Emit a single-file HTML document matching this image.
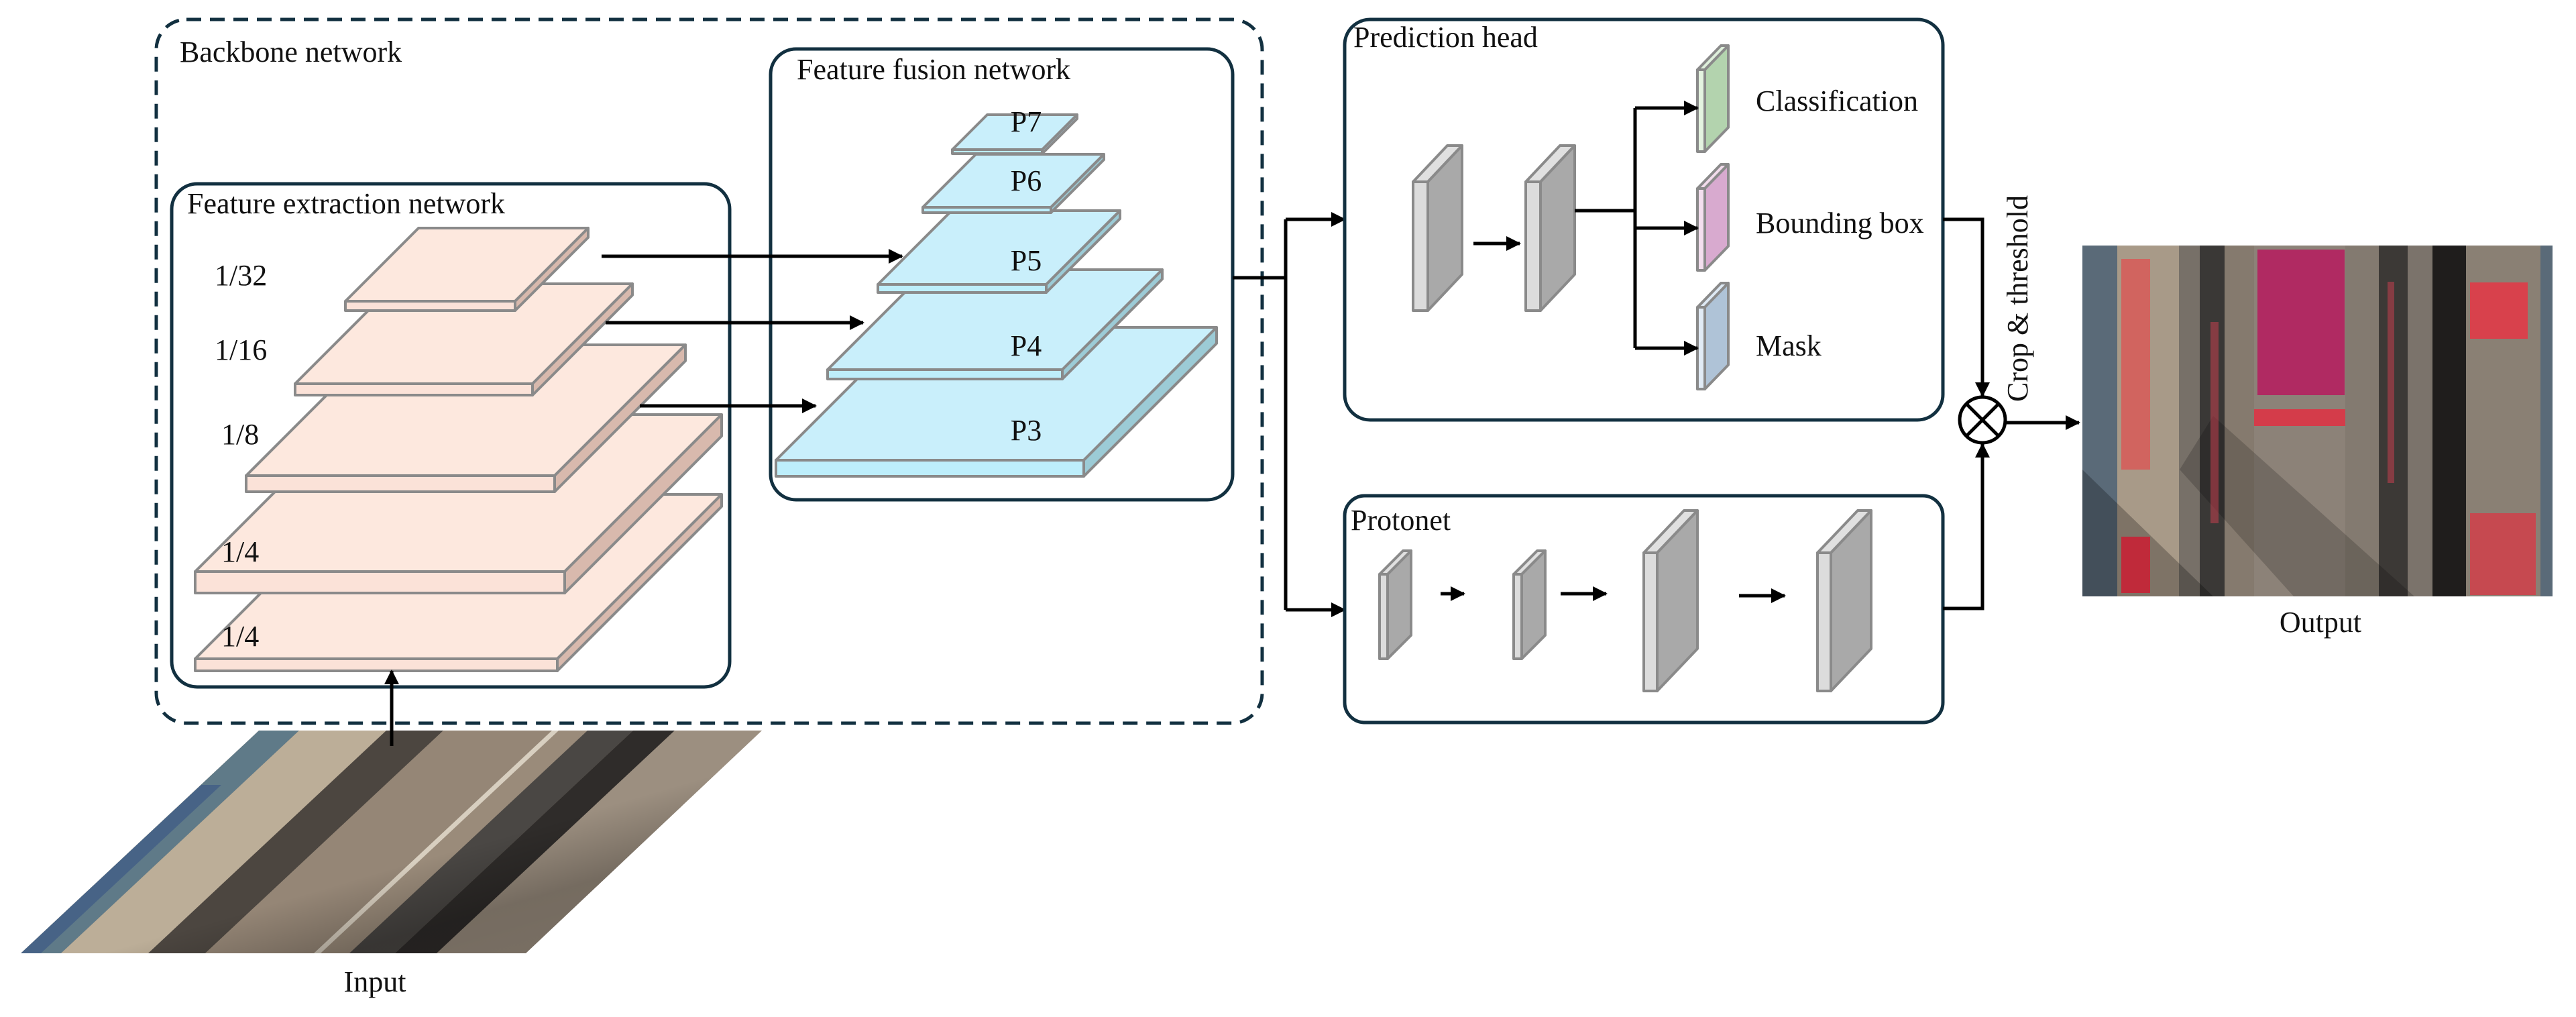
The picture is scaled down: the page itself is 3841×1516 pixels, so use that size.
<!DOCTYPE html>
<html><head><meta charset="utf-8"><style>
html,body{margin:0;padding:0;background:#fff;}
svg{display:block;}
text{font-family:"Liberation Serif",serif;fill:#111;}
</style></head><body>
<svg width="3841" height="1516" viewBox="0 0 3841 1516" xmlns="http://www.w3.org/2000/svg">
<defs>
<marker id="ah" markerWidth="10" markerHeight="10" refX="9" refY="5" orient="auto" markerUnits="userSpaceOnUse">
<path d="M0,0 L10,5 L0,10 z" fill="#000"/></marker>
<marker id="ah2" markerWidth="22" markerHeight="22" refX="20" refY="11" orient="auto" markerUnits="userSpaceOnUse">
<path d="M0,0 L22,11 L0,22 z" fill="#000"/></marker>
<clipPath id="inclip"><polygon points="31,1421 386,1089 1136,1089 784,1421"/></clipPath>
<clipPath id="outclip"><rect x="3105" y="366" width="701" height="523"/></clipPath>
<linearGradient id="shade" x1="0" y1="0" x2="1" y2="1"><stop offset="0" stop-color="#000" stop-opacity="0"/><stop offset="0.55" stop-color="#000" stop-opacity="0"/><stop offset="0.7" stop-color="#000" stop-opacity="0.25"/><stop offset="1" stop-color="#000" stop-opacity="0.2"/></linearGradient>
</defs>

<!-- Backbone dashed -->
<rect x="233" y="29" width="1649" height="1049" rx="45" fill="none" stroke="#123040" stroke-width="5" stroke-dasharray="22,13"/>
<text x="268" y="92" font-size="44">Backbone network</text>

<!-- Feature extraction box -->
<rect x="256" y="274" width="832" height="750" rx="38" fill="none" stroke="#123040" stroke-width="5"/>
<text x="279" y="318" font-size="44">Feature extraction network</text>

<!-- Feature fusion box -->
<rect x="1149" y="73" width="689" height="672" rx="38" fill="none" stroke="#123040" stroke-width="5"/>
<text x="1188" y="118" font-size="44">Feature fusion network</text>

<!-- pink slabs -->
<g stroke="#8a8a8a" stroke-width="4" stroke-linejoin="round">
<polygon points="291,982 536,737 1076,737 831,982" fill="#fde8de"/>
<rect x="291" y="982" width="540" height="18" fill="#fbe2d8"/>
<polygon points="831,982 1076,737 1076,755 831,1000" fill="#d8b9ad"/>

<polygon points="291,852 525,618 1076,618 842,852" fill="#fde8de"/>
<rect x="291" y="852" width="551" height="32" fill="#fbe2d8"/>
<polygon points="842,852 1076,618 1076,650 842,884" fill="#d8b9ad"/>

<polygon points="367,709 562,514 1022,514 827,709" fill="#fde8de"/>
<rect x="367" y="709" width="460" height="24" fill="#fbe2d8"/>
<polygon points="827,709 1022,514 1022,538 827,733" fill="#d8b9ad"/>

<polygon points="440,572 589,423 943,423 794,572" fill="#fde8de"/>
<rect x="440" y="572" width="354" height="17" fill="#fbe2d8"/>
<polygon points="794,572 943,423 943,440 794,589" fill="#d8b9ad"/>

<polygon points="515,449 624,340 877,340 768,449" fill="#fde8de"/>
<rect x="515" y="449" width="253" height="14" fill="#fbe2d8"/>
<polygon points="768,449 877,340 877,354 768,463" fill="#d8b9ad"/>
</g>
<g font-size="44">
<text x="320" y="425">1/32</text>
<text x="320" y="536">1/16</text>
<text x="330" y="662">1/8</text>
<text x="330" y="837">1/4</text>
<text x="330" y="963">1/4</text>
</g>

<!-- blue slabs -->
<g stroke="#8a8a8a" stroke-width="4" stroke-linejoin="round">
<polygon points="1157,686 1355,488 1814,488 1616,686" fill="#c9effb"/>
<rect x="1157" y="686" width="459" height="24" fill="#bdeefb"/>
<polygon points="1616,686 1814,488 1814,512 1616,710" fill="#9ccbd6"/>

<polygon points="1234,551 1383,402 1733,402 1584,551" fill="#c9effb"/>
<rect x="1234" y="551" width="350" height="14" fill="#bdeefb"/>
<polygon points="1584,551 1733,402 1733,416 1584,565" fill="#9ccbd6"/>

<polygon points="1309,424 1419,314 1670,314 1560,424" fill="#c9effb"/>
<rect x="1309" y="424" width="251" height="12" fill="#bdeefb"/>
<polygon points="1560,424 1670,314 1670,326 1560,436" fill="#9ccbd6"/>

<polygon points="1376,309 1455,230 1646,230 1567,309" fill="#c9effb"/>
<rect x="1376" y="309" width="191" height="8" fill="#bdeefb"/>
<polygon points="1567,309 1646,230 1646,238 1567,317" fill="#9ccbd6"/>

<polygon points="1420,223 1472,171 1606,171 1554,223" fill="#c9effb"/>
<rect x="1420" y="223" width="134" height="6" fill="#bdeefb"/>
<polygon points="1554,223 1606,171 1606,177 1554,229" fill="#9ccbd6"/>
</g>
<g font-size="44" text-anchor="middle">
<text x="1530" y="196">P7</text>
<text x="1530" y="284">P6</text>
<text x="1530" y="403">P5</text>
<text x="1530" y="530">P4</text>
<text x="1530" y="656">P3</text>
</g>

<!-- arrows backbone -> fusion -->
<g stroke="#000" stroke-width="5" fill="none">
<line x1="897" y1="382" x2="1345" y2="382" marker-end="url(#ah2)"/>
<line x1="903" y1="481" x2="1287" y2="481" marker-end="url(#ah2)"/>
<line x1="954" y1="605" x2="1216" y2="605" marker-end="url(#ah2)"/>
</g>

<!-- Input image -->
<g clip-path="url(#inclip)">
<rect x="0" y="1080" width="1200" height="350" fill="#9a8b7a"/>
<polygon points="31,1421 386,1089 446,1089 91,1421" fill="#5f7a88"/>
<polygon points="91,1421 446,1089 576,1089 221,1421" fill="#bcae98"/>
<polygon points="221,1421 576,1089 661,1089 306,1421" fill="#4c4640"/>
<polygon points="306,1421 661,1089 823,1089 468,1421" fill="#958676"/>
<polygon points="468,1421 823,1089 833,1089 478,1421" fill="#d8cfc0"/>
<polygon points="521,1421 876,1089 944,1089 589,1421" fill="#4a4744"/>
<polygon points="589,1421 944,1089 1006,1089 651,1421" fill="#2f2c2a"/>
<polygon points="651,1421 1006,1089 1136,1089 784,1421" fill="#9c8f80"/>
<polygon points="31,1421 300,1170 330,1170 61,1421" fill="#3d5a86" opacity="0.7"/>
<rect x="0" y="1080" width="1200" height="350" fill="url(#shade)"/>
</g>
<text x="559" y="1478" font-size="44" text-anchor="middle">Input</text>
<line x1="584" y1="1112" x2="584" y2="1000" stroke="#000" stroke-width="5" marker-end="url(#ah2)"/>

<!-- connection to heads -->
<g stroke="#000" stroke-width="5" fill="none">
<line x1="1838" y1="414" x2="1917" y2="414"/>
<line x1="1917" y1="327" x2="1917" y2="909"/>
<line x1="1917" y1="327" x2="2005" y2="327" marker-end="url(#ah2)"/>
<line x1="1917" y1="909" x2="2005" y2="909" marker-end="url(#ah2)"/>
</g>

<!-- Prediction head -->
<rect x="2005" y="29" width="892" height="597" rx="38" fill="none" stroke="#123040" stroke-width="5"/>
<text x="2018" y="70" font-size="44">Prediction head</text>
<g stroke="#8a8a8a" stroke-width="4" stroke-linejoin="round">
<polygon points="2107,271 2158,217 2180,217 2129,271" fill="#e0e0e0"/>
<rect x="2107" y="271" width="22" height="192" fill="#dcdcdc"/>
<polygon points="2129,271 2180,217 2180,409 2129,463" fill="#a9a9a9"/>
<polygon points="2275,271 2326,217 2348,217 2297,271" fill="#e0e0e0"/>
<rect x="2275" y="271" width="22" height="192" fill="#dcdcdc"/>
<polygon points="2297,271 2348,217 2348,409 2297,463" fill="#a9a9a9"/>

<polygon points="2531,104 2566,68 2577,68 2542,104" fill="#dff0dc"/>
<rect x="2531" y="104" width="11" height="122" fill="#e4f3e0"/>
<polygon points="2542,104 2577,68 2577,190 2542,226" fill="#b3d3ae"/>
<polygon points="2531,281 2566,245 2577,245 2542,281" fill="#f2dcec"/>
<rect x="2531" y="281" width="11" height="122" fill="#f3dfee"/>
<polygon points="2542,281 2577,245 2577,367 2542,403" fill="#d8aacf"/>
<polygon points="2531,458 2566,422 2577,422 2542,458" fill="#dde8f3"/>
<rect x="2531" y="458" width="11" height="122" fill="#e1ebf5"/>
<polygon points="2542,458 2577,422 2577,544 2542,580" fill="#afc3d7"/>
</g>
<g stroke="#000" stroke-width="5" fill="none">
<line x1="2197" y1="363" x2="2266" y2="363" marker-end="url(#ah2)"/>
<line x1="2348" y1="314" x2="2438" y2="314"/>
<line x1="2438" y1="161" x2="2438" y2="519"/>
<line x1="2438" y1="161" x2="2531" y2="161" marker-end="url(#ah2)"/>
<line x1="2438" y1="340" x2="2531" y2="340" marker-end="url(#ah2)"/>
<line x1="2438" y1="519" x2="2531" y2="519" marker-end="url(#ah2)"/>
</g>
<g font-size="44">
<text x="2618" y="165">Classification</text>
<text x="2618" y="347">Bounding box</text>
<text x="2618" y="530">Mask</text>
</g>

<!-- Protonet -->
<rect x="2005" y="739" width="892" height="338" rx="30" fill="none" stroke="#123040" stroke-width="5"/>
<text x="2014" y="790" font-size="44">Protonet</text>
<g stroke="#8a8a8a" stroke-width="4" stroke-linejoin="round">
<polygon points="2057,856 2092,821 2104,821 2069,856" fill="#e0e0e0"/>
<rect x="2057" y="856" width="12" height="126" fill="#dcdcdc"/>
<polygon points="2069,856 2104,821 2104,947 2069,982" fill="#a9a9a9"/>
<polygon points="2257,856 2292,821 2304,821 2269,856" fill="#e0e0e0"/>
<rect x="2257" y="856" width="12" height="126" fill="#dcdcdc"/>
<polygon points="2269,856 2304,821 2304,947 2269,982" fill="#a9a9a9"/>
<polygon points="2451,824 2511,761 2531,761 2471,824" fill="#e0e0e0"/>
<rect x="2451" y="824" width="20" height="206" fill="#dcdcdc"/>
<polygon points="2471,824 2531,761 2531,967 2471,1030" fill="#a9a9a9"/>
<polygon points="2710,824 2770,761 2790,761 2730,824" fill="#e0e0e0"/>
<rect x="2710" y="824" width="20" height="206" fill="#dcdcdc"/>
<polygon points="2730,824 2790,761 2790,967 2730,1030" fill="#a9a9a9"/>
</g>
<g stroke="#000" stroke-width="5" fill="none">
<line x1="2148" y1="885" x2="2183" y2="885" marker-end="url(#ah2)"/>
<line x1="2327" y1="885" x2="2395" y2="885" marker-end="url(#ah2)"/>
<line x1="2593" y1="888" x2="2661" y2="888" marker-end="url(#ah2)"/>
</g>

<!-- combine -->
<g stroke="#000" stroke-width="5" fill="none">
<polyline points="2897,327 2956,327 2956,590" marker-end="url(#ah2)"/>
<polyline points="2897,907 2956,907 2956,662" marker-end="url(#ah2)"/>
<circle cx="2956" cy="626" r="34" fill="#fff"/>
<line x1="2932" y1="602" x2="2980" y2="650"/>
<line x1="2980" y1="602" x2="2932" y2="650"/>
<line x1="2990" y1="630" x2="3100" y2="630" marker-end="url(#ah2)"/>
</g>
<text transform="translate(3023,445) rotate(-90)" font-size="44" text-anchor="middle">Crop &amp; threshold</text>

<!-- Output image -->
<g clip-path="url(#outclip)">
<rect x="3105" y="366" width="701" height="523" fill="#8a7f72"/>
<rect x="3105" y="366" width="52" height="523" fill="#5a6a78"/>
<rect x="3157" y="366" width="92" height="523" fill="#a89a88"/>
<rect x="3249" y="366" width="31" height="523" fill="#777068"/>
<rect x="3280" y="366" width="37" height="523" fill="#3a3836"/>
<rect x="3317" y="366" width="44" height="523" fill="#857a6e"/>
<rect x="3361" y="366" width="136" height="523" fill="#8c8278"/>
<rect x="3497" y="366" width="50" height="523" fill="#837a70"/>
<rect x="3547" y="366" width="43" height="523" fill="#3c3936"/>
<rect x="3590" y="366" width="37" height="523" fill="#7b736b"/>
<rect x="3627" y="366" width="50" height="523" fill="#1f1d1c"/>
<rect x="3677" y="366" width="111" height="523" fill="#8a8074"/>
<rect x="3788" y="366" width="18" height="523" fill="#5a6a78"/>
<polygon points="3105,700 3300,889 3105,889" fill="#000" opacity="0.25"/>
<polygon points="3300,620 3600,889 3420,889 3250,700" fill="#000" opacity="0.18"/>
<rect x="3366" y="372" width="130" height="217" fill="#b02a62"/>
<rect x="3361" y="610" width="136" height="25" fill="#d43c4a"/>
<rect x="3163" y="386" width="43" height="314" fill="#d85a58" opacity="0.85"/>
<rect x="3163" y="800" width="43" height="84" fill="#c02a3a"/>
<rect x="3683" y="421" width="86" height="84" fill="#e03a48" opacity="0.9"/>
<rect x="3683" y="765" width="98" height="122" fill="#d0404a" opacity="0.85"/>
<rect x="3296" y="480" width="12" height="300" fill="#d04050" opacity="0.5"/>
<rect x="3560" y="420" width="10" height="300" fill="#d04050" opacity="0.5"/>
</g>
<text x="3460" y="942" font-size="44" text-anchor="middle">Output</text>
</svg>
</body></html>
